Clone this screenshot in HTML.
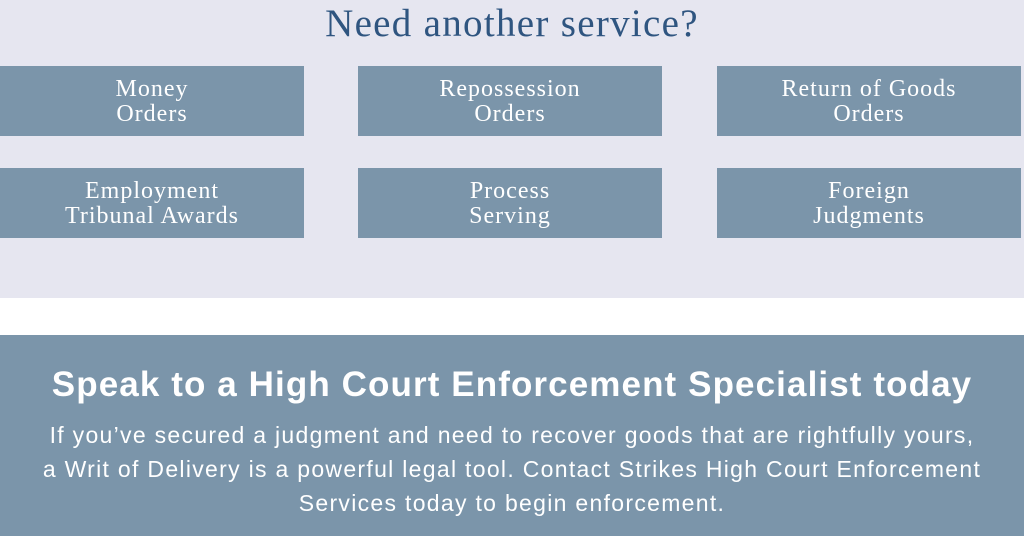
<!DOCTYPE html>
<html><head><meta charset="utf-8"><style>
*{margin:0;padding:0;box-sizing:border-box}
body{width:1024px;height:536px;overflow:hidden;background:#fff;position:relative;font-family:"Liberation Serif",serif}
.top{position:absolute;left:0;top:0;width:1024px;height:298px;background:#e6e6f0}
h1{position:absolute;left:0;width:1024px;top:1px;text-align:center;font-weight:normal;font-size:39px;color:#2f5580;letter-spacing:1.3px}
.b{position:absolute;width:304px;height:70px;background:#7b95aa;color:#fff;font-size:24px;line-height:25px;letter-spacing:1px;text-align:center;display:flex;align-items:center;justify-content:center;padding-top:2px}
.bot{position:absolute;left:0;top:335px;width:1024px;height:201px;background:#7b95aa;color:#fff;font-family:"Liberation Sans",sans-serif;text-align:center}
h2{font-size:35px;font-weight:bold;margin-top:29px;line-height:42px;letter-spacing:1.1px}
p{font-size:23px;line-height:34px;margin-top:12px;letter-spacing:1.3px}
</style></head><body>
<div class="top"></div>
<h1>Need another service?</h1>
<div class="b" style="left:0;top:66px">Money<br>Orders</div>
<div class="b" style="left:358px;top:66px">Repossession<br>Orders</div>
<div class="b" style="left:717px;top:66px">Return of Goods<br>Orders</div>
<div class="b" style="left:0;top:168px">Employment<br>Tribunal Awards</div>
<div class="b" style="left:358px;top:168px">Process<br>Serving</div>
<div class="b" style="left:717px;top:168px">Foreign<br>Judgments</div>
<div class="bot">
<h2>Speak to a High Court Enforcement Specialist today</h2>
<p>If you’ve secured a judgment and need to recover goods that are rightfully yours,<br>a Writ of Delivery is a powerful legal tool. Contact Strikes High Court Enforcement<br>Services today to begin enforcement.</p>
</div>
</body></html>
